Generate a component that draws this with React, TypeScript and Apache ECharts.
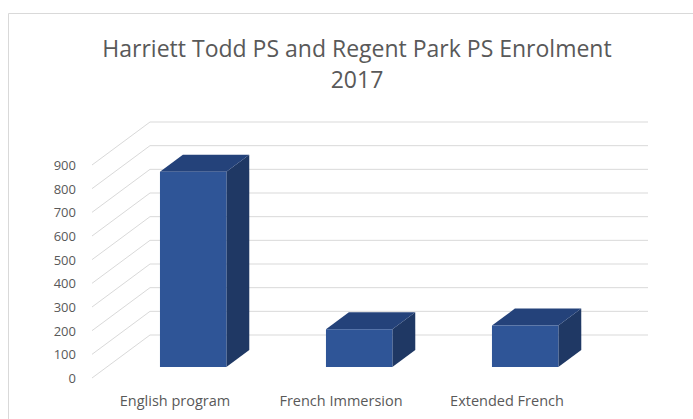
import React, { useEffect, useRef } from "react";
import * as echarts from "echarts";

const titleLines = ["Harriett Todd PS and Regent Park PS Enrolment", "2017"];
const categories = ["English program", "French Immersion", "Extended French"];
const enrolment = [825, 160, 175];
const yMin = 0;
const yMax = 900;
const yInterval = 100;
const yTicks = [0, 100, 200, 300, 400, 500, 600, 700, 800, 900];

// 3D projection style (pixels for full depth of the floor)
const DEPTH_DX = 58;
const DEPTH_DY = -43;
const BAR_FRONT = 0.256;
const BAR_DEPTH = 0.395;
const BAR_WIDTH = 0.4;
const BAR_SHIFT = 0.02;

const TEXT = "#595959";
const GRID = "#d9d9d9";
const FRONT = "#2F5597";
const TOP = "#24427A";
const SIDE = "#1F3864";
const FONT = "Open Sans";

export default function App() {
  const ref = useRef<HTMLDivElement>(null);
  useEffect(() => {
    if (!ref.current) return;
    const chart = echarts.init(ref.current, null, { renderer: "svg" });
    const option: any = {
      animation: false,
      backgroundColor: "#ffffff",
      title: {
        text: titleLines.join("\n"),
        left: 352,
        top: 27,
        textAlign: "center",
        textStyle: {
          fontFamily: FONT,
          fontSize: 23,
          fontWeight: "normal",
          color: TEXT,
          lineHeight: 31.5,
        },
      },
      graphic: [
        {
          type: "rect",
          shape: { x: 8.5, y: 13.5, width: 700, height: 420 },
          style: { fill: "none", stroke: GRID, lineWidth: 1 },
          silent: true,
          z: -10,
        },
      ],
      grid: { left: 92, right: 103, top: 165, bottom: 41 },
      xAxis: {
        type: "category",
        data: categories,
        axisLine: { show: false },
        axisTick: { show: false },
        axisLabel: {
          color: TEXT,
          fontFamily: FONT,
          fontSize: 14.5,
          margin: 15,
        },
        splitLine: { show: false },
      },
      yAxis: {
        type: "value",
        min: yMin,
        max: yMax,
        interval: yInterval,
        axisLine: { show: false },
        axisTick: { show: false },
        splitLine: { show: false },
        axisLabel: {
          color: TEXT,
          fontFamily: FONT,
          fontSize: 13,
          margin: 16,
        },
      },
      series: [
        {
          type: "custom",
          name: "gridlines",
          silent: true,
          data: yTicks.map((v) => [0, v]),
          encode: { x: 0, y: 1 },
          z: 1,
          renderItem: (params: any, api: any) => {
            const v = api.value(1);
            const p = api.coord([0, v]);
            const w = api.size([1, 0])[0];
            const xl = p[0] - w / 2;
            const xr = xl + categories.length * w;
            return {
              type: "polyline",
              shape: {
                points: [
                  [xl, p[1]],
                  [xl + DEPTH_DX, p[1] + DEPTH_DY],
                  [xr + DEPTH_DX, p[1] + DEPTH_DY],
                ],
              },
              style: { stroke: GRID, lineWidth: 1, fill: "none" },
            };
          },
        },
        {
          type: "custom",
          name: "Enrolment",
          data: enrolment.map((v, i) => [i, v]),
          encode: { x: 0, y: 1 },
          z: 2,
          renderItem: (params: any, api: any) => {
            const i = api.value(0);
            const v = api.value(1);
            const top = api.coord([i, v]);
            const base = api.coord([i, 0]);
            const w = api.size([1, 0])[0];
            const bw = w * BAR_WIDTH;
            const x1 = top[0] - bw / 2 + BAR_FRONT * DEPTH_DX + BAR_SHIFT * w;
            const x2 = x1 + bw;
            const yt = top[1] + BAR_FRONT * DEPTH_DY;
            const yb = base[1] + BAR_FRONT * DEPTH_DY;
            const dx = BAR_DEPTH * DEPTH_DX;
            const dy = BAR_DEPTH * DEPTH_DY;
            return {
              type: "group",
              children: [
                {
                  type: "polygon",
                  shape: { points: [[x2, yt], [x2 + dx, yt + dy], [x2 + dx, yb + dy], [x2, yb]] },
                  style: { fill: SIDE },
                },
                {
                  type: "polygon",
                  shape: { points: [[x1, yt], [x2, yt], [x2 + dx, yt + dy], [x1 + dx, yt + dy]] },
                  style: { fill: TOP },
                },
                {
                  type: "rect",
                  shape: { x: x1, y: yt, width: bw, height: yb - yt },
                  style: { fill: FRONT },
                },
              ],
            };
          },
        },
      ],
    };
    chart.setOption(option);
    return () => chart.dispose();
  }, []);
  return (
    <div
      ref={ref}
      style={{ position: "absolute", left: 0, top: 0, width: 693, height: 419 }}
    />
  );
}
